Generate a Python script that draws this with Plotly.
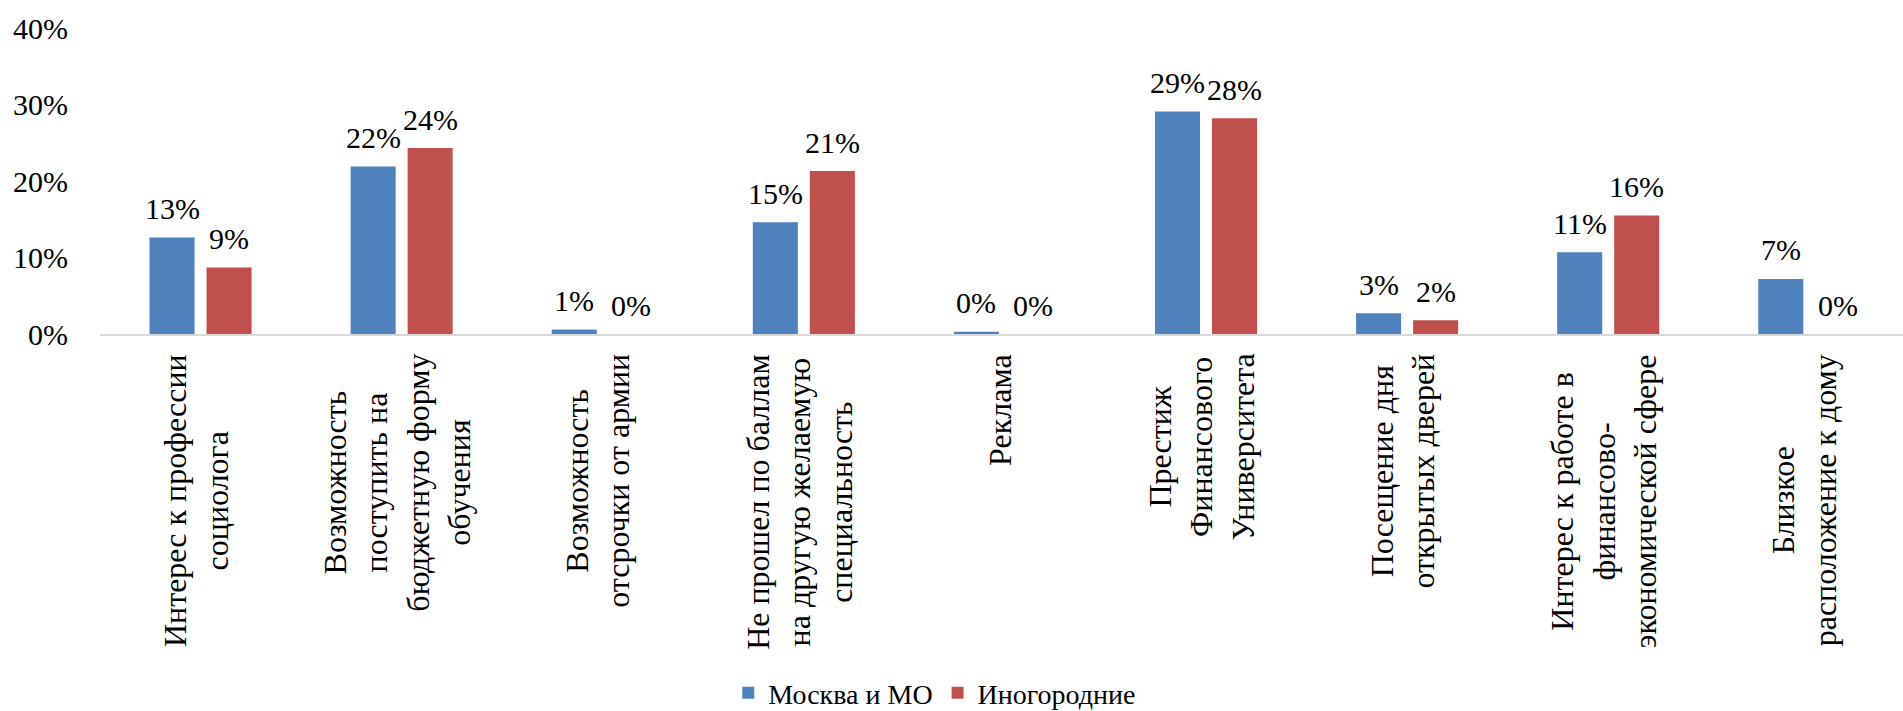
import plotly.graph_objects as go

categories = [
    "Интерес к профессии<br>социолога",
    "Возможность<br>поступить на<br>бюджетную форму<br>обучения",
    "Возможность<br>отсрочки от армии",
    "Не прошел по баллам<br>на другую желаемую<br>специальность",
    "Реклама",
    "Престиж<br>Финансового<br>Университета",
    "Посещение дня<br>открытых дверей",
    "Интерес к работе в<br>финансово-<br>экономической сфере",
    "Близкое<br>расположение к дому",
]
moscow = [0.126, 0.219, 0.006, 0.146, 0.003, 0.291, 0.027, 0.107, 0.072]
other = [0.087, 0.243, 0.0, 0.213, 0.0, 0.282, 0.018, 0.155, 0.0]
series_names = ["Москва и МО", "Иногородние"]
series_colors = ["#4F81BD", "#C0504D"]
y_ticks = [0, 0.1, 0.2, 0.3, 0.4]

FONT = "Liberation Serif"
FS = 30
FS_CAT = 32
FS_LEG = 28
BARGAP = 0.433
BARGROUPGAP = 0.21

fig = go.Figure()
for name, vals, col in zip(series_names, [moscow, other], series_colors):
    fig.add_trace(go.Bar(
        x=list(range(len(categories))), y=vals, name=name,
        marker=dict(color=col, line=dict(width=0)),
        hoverinfo="y",
    ))

# data labels placed above each bar (group slot offsets derived from bar gaps)
slot = (1 - BARGAP) / 2
for s, vals in enumerate([moscow, other]):
    off = (s - 0.5) * slot
    for i, v in enumerate(vals):
        fig.add_annotation(
            x=i + off, y=v, xref="x", yref="y",
            text=f"{int(v * 100 + 0.5)}%", showarrow=False,
            xanchor="center", yanchor="middle", yshift=29,
            font=dict(family=FONT, size=FS, color="black"),
        )

# category labels, rotated, lines centred
for i, c in enumerate(categories):
    fig.add_annotation(
        x=i, y=0, xref="x", yref="paper",
        text=c, textangle=-90, showarrow=False,
        xanchor="center", yanchor="top", yshift=-18, xshift=-5,
        align="center",
        font=dict(family=FONT, size=FS_CAT, color="black"),
    )

fig.update_layout(
    width=1903, height=711,
    margin=dict(l=100, r=0, t=28, b=377, autoexpand=False),
    paper_bgcolor="white", plot_bgcolor="white",
    barmode="group", bargap=BARGAP, bargroupgap=BARGROUPGAP,
    font=dict(family=FONT, size=FS, color="black"),
    showlegend=True,
    legend=dict(
        orientation="h", x=0.463, xanchor="center", y=-1.173, yanchor="middle",
        font=dict(family=FONT, size=FS_LEG, color="black"),
        itemwidth=30,
    ),
)
fig.update_xaxes(
    showticklabels=False, showline=True, linecolor="#d9d9d9", linewidth=2,
    showgrid=False, zeroline=False, ticks="", range=[-0.5, 8.466],
    tickvals=list(range(len(categories))), ticktext=categories,
)
fig.update_yaxes(
    range=[0, 0.4], tickvals=y_ticks, tickformat=".0%",
    showgrid=False, zeroline=False, showline=False, ticks="",
    ticklabelstandoff=31,
    tickfont=dict(family=FONT, size=FS, color="black"),
)

fig.write_html("out.html", config={"displayModeBar": False},
               post_script="document.body.style.margin='0px';")
